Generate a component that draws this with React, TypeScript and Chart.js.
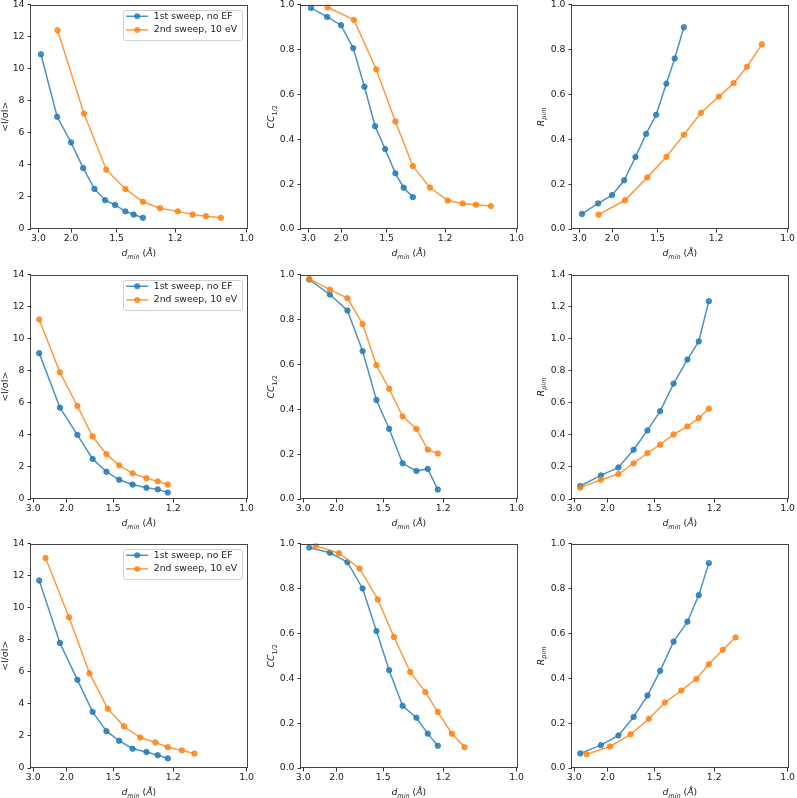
import { useEffect, useRef } from 'react';
import { Chart, registerables } from 'chart.js';

Chart.register(...registerables);

// ---- data ---------------------------------------------------------------
const seriesLabels = ['1st sweep, no EF', '2nd sweep, 10 eV'];
const xTickLabels = ['3.0', '2.0', '1.5', '1.2', '1.0'];

// Data set A: shell resolution limits (Å) for each sweep
const dminA1 = [2.87, 2.29, 2.0, 1.82, 1.69, 1.59, 1.51, 1.44, 1.39, 1.34];
const dminA2 = [2.28, 1.81, 1.58, 1.44, 1.34, 1.26, 1.19, 1.14, 1.1, 1.06];
const isigA1 = [10.9, 7.0, 5.4, 3.8, 2.5, 1.8, 1.5, 1.1, 0.9, 0.7];
const isigA2 = [12.4, 7.2, 3.7, 2.5, 1.7, 1.3, 1.1, 0.9, 0.8, 0.7];
const ccA1 = [0.985, 0.945, 0.908, 0.806, 0.634, 0.458, 0.356, 0.248, 0.184, 0.142];
const ccA2 = [0.988, 0.932, 0.711, 0.479, 0.28, 0.185, 0.127, 0.114, 0.108, 0.102];
const rpimA1 = [0.067, 0.114, 0.151, 0.217, 0.321, 0.424, 0.509, 0.648, 0.76, 0.899];
const rpimA2 = [0.064, 0.128, 0.23, 0.322, 0.42, 0.518, 0.59, 0.65, 0.723, 0.823];

// Data set B
const dminB1 = [2.71, 2.12, 1.84, 1.67, 1.55, 1.46, 1.38, 1.31, 1.26, 1.22];
const dminB2 = [2.71, 2.12, 1.84, 1.67, 1.55, 1.46, 1.38, 1.31, 1.26, 1.22];
const isigB1 = [9.1, 5.7, 4.0, 2.5, 1.7, 1.2, 0.9, 0.7, 0.6, 0.4];
const isigB2 = [11.2, 7.9, 5.8, 3.9, 2.8, 2.1, 1.6, 1.3, 1.1, 0.9];
const ccB1 = [0.978, 0.911, 0.84, 0.659, 0.441, 0.313, 0.159, 0.125, 0.134, 0.042];
const ccB2 = [0.981, 0.933, 0.895, 0.78, 0.596, 0.491, 0.368, 0.312, 0.22, 0.203];
const rpimB1 = [0.081, 0.147, 0.197, 0.307, 0.428, 0.548, 0.72, 0.87, 0.983, 1.234];
const rpimB2 = [0.071, 0.12, 0.156, 0.222, 0.287, 0.339, 0.403, 0.453, 0.505, 0.563];

// Data set C
const dminC1 = [2.71, 2.12, 1.84, 1.67, 1.55, 1.46, 1.38, 1.31, 1.26, 1.22];
const dminC2 = [2.48, 1.96, 1.7, 1.54, 1.43, 1.34, 1.27, 1.22, 1.17, 1.13];
const isigC1 = [11.7, 7.8, 5.5, 3.5, 2.3, 1.7, 1.2, 1.0, 0.8, 0.6];
const isigC2 = [13.1, 9.4, 5.9, 3.7, 2.6, 1.9, 1.6, 1.3, 1.1, 0.9];
const ccC1 = [0.982, 0.959, 0.917, 0.8, 0.61, 0.436, 0.277, 0.224, 0.153, 0.099];
const ccC2 = [0.99, 0.957, 0.889, 0.751, 0.584, 0.428, 0.338, 0.25, 0.153, 0.093];
const rpimC1 = [0.065, 0.102, 0.145, 0.227, 0.323, 0.433, 0.563, 0.652, 0.77, 0.913];
const rpimC2 = [0.061, 0.096, 0.15, 0.219, 0.292, 0.345, 0.397, 0.462, 0.527, 0.582];

// ---- styling / layout ---------------------------------------------------
const BLUE = 'rgba(31,119,180,0.8)';
const ORANGE = 'rgba(255,127,14,0.8)';
const TEXT = '#222';
const SPINE = '#444';
const FONT = 'DejaVu Sans';
const FS = 9.3;

const PLOT_W = 218;
const PLOT_H = 225;
const PLOT_LEFT = [31, 301, 572];
const PLOT_TOP = [4, 274, 543];
const AXIS_W = 45;
const PAD_T = 8;
const PAD_R = 6;
const AXIS_H = 36;
const CW = AXIS_W + PLOT_W + PAD_R;
const CH = PAD_T + PLOT_H + AXIS_H;
const X_MIN = [0.079, 0.102, 0.102];
const Y_TITLE_GAP = [26.5, 30, 31.5];

type Seg = { t: string; i?: boolean; sub?: boolean };

const yTitles: Seg[][] = [
  [{ t: '<I/σI>' }],
  [{ t: 'CC', i: true }, { t: '1/2', sub: true }],
  [{ t: 'R', i: true }, { t: 'pim', i: true, sub: true }],
];
const xTitle: Seg[] = [
  { t: 'd', i: true },
  { t: 'min', i: true, sub: true },
  { t: ' (' },
  { t: 'Å', i: true },
  { t: ')' },
];

type Panel = {
  row: number;
  col: number;
  d1: number[];
  y1: number[];
  d2: number[];
  y2: number[];
  yMax: number;
};

const panels: Panel[] = [
  { row: 0, col: 0, d1: dminA1, y1: isigA1, d2: dminA2, y2: isigA2, yMax: 14 },
  { row: 0, col: 1, d1: dminA1, y1: ccA1, d2: dminA2, y2: ccA2, yMax: 1 },
  { row: 0, col: 2, d1: dminA1, y1: rpimA1, d2: dminA2, y2: rpimA2, yMax: 1 },
  { row: 1, col: 0, d1: dminB1, y1: isigB1, d2: dminB2, y2: isigB2, yMax: 14 },
  { row: 1, col: 1, d1: dminB1, y1: ccB1, d2: dminB2, y2: ccB2, yMax: 1 },
  { row: 1, col: 2, d1: dminB1, y1: rpimB1, d2: dminB2, y2: rpimB2, yMax: 1.4 },
  { row: 2, col: 0, d1: dminC1, y1: isigC1, d2: dminC2, y2: isigC2, yMax: 14 },
  { row: 2, col: 1, d1: dminC1, y1: ccC1, d2: dminC2, y2: ccC2, yMax: 1 },
  { row: 2, col: 2, d1: dminC1, y1: rpimC1, d2: dminC2, y2: rpimC2, yMax: 1 },
];

const invSq = (d: number) => 1 / (d * d);

// Text with italic runs and subscripts, centred on (cx, cy)
function drawRich(ctx: CanvasRenderingContext2D, segs: Seg[], cx: number, cy: number, rotate: boolean) {
  const fontOf = (s: Seg) => `${s.i ? 'italic ' : ''}${s.sub ? FS * 0.7 : FS}px "${FONT}"`;
  ctx.save();
  ctx.translate(cx, cy);
  if (rotate) ctx.rotate(-Math.PI / 2);
  let w = 0;
  for (const s of segs) {
    ctx.font = fontOf(s);
    w += ctx.measureText(s.t).width;
  }
  let x = -w / 2;
  const base = FS * 0.36;
  ctx.textAlign = 'left';
  ctx.textBaseline = 'alphabetic';
  ctx.fillStyle = TEXT;
  for (const s of segs) {
    ctx.font = fontOf(s);
    ctx.fillText(s.t, x, base + (s.sub ? FS * 0.28 : 0));
    x += ctx.measureText(s.t).width;
  }
  ctx.restore();
}

function makeDecor(p: Panel) {
  return {
    id: 'decor' + p.row + p.col,
    afterDatasetsDraw(chart: Chart) {
      const ctx = chart.ctx;
      const a = chart.chartArea;
      // frame on all four sides
      ctx.save();
      ctx.strokeStyle = SPINE;
      ctx.lineWidth = 1;
      ctx.strokeRect(Math.round(a.left) - 0.5, Math.round(a.top) + 0.5, Math.round(a.right - a.left) + 1, Math.round(a.bottom - a.top) - 1);
      ctx.restore();

      // axis titles
      drawRich(ctx, yTitles[p.col], a.left - Y_TITLE_GAP[p.col], (a.top + a.bottom) / 2, true);
      drawRich(ctx, xTitle, (a.left + a.right) / 2, a.bottom + 24, false);

      // legend in the first column
      if (p.col === 0) {
        const colors = [BLUE, ORANGE];
        ctx.save();
        ctx.font = `${FS}px "${FONT}"`;
        const tw = Math.max(...seriesLabels.map((s) => ctx.measureText(s).width));
        const bw = 30.3 + tw + 5.6;
        const bh = 30;
        const bx = a.right - 4 - bw;
        const by = a.top + 5;
        ctx.beginPath();
        ctx.roundRect(Math.round(bx) + 0.5, Math.round(by) + 0.5, Math.round(bw), bh, 2.5);
        ctx.fillStyle = 'rgba(255,255,255,0.8)';
        ctx.fill();
        ctx.strokeStyle = '#d0d0d0';
        ctx.lineWidth = 1;
        ctx.stroke();
        seriesLabels.forEach((label, k) => {
          const cy = by + 6.7 + k * 13.6;
          ctx.strokeStyle = colors[k];
          ctx.lineWidth = 1.5;
          ctx.beginPath();
          ctx.moveTo(bx + 2.7, cy);
          ctx.lineTo(bx + 24.7, cy);
          ctx.stroke();
          ctx.fillStyle = colors[k];
          ctx.beginPath();
          ctx.arc(bx + 13.7, cy, 3, 0, Math.PI * 2);
          ctx.fill();
          ctx.fillStyle = TEXT;
          ctx.textAlign = 'left';
          ctx.textBaseline = 'middle';
          ctx.fillText(label, bx + 30.3, cy);
        });
        ctx.restore();
      }
    },
  };
}

function buildConfig(p: Panel): any {
  const series = (d: number[], y: number[], color: string, label: string, order: number) => ({
    label,
    data: d.map((v, i) => ({ x: invSq(v), y: y[i] })),
    borderColor: color,
    backgroundColor: color,
    pointBackgroundColor: color,
    pointBorderColor: color,
    borderWidth: 1.5,
    pointRadius: 2.7,
    pointBorderWidth: 1,
    tension: 0,
    order,
  });
  const tickFont = { family: FONT, size: FS };
  const grid = {
    display: true,
    drawOnChartArea: false,
    drawTicks: true,
    tickLength: 3.5,
    tickColor: '#333',
    tickWidth: 1,
  };
  return {
    type: 'line',
    data: {
      datasets: [
        series(p.d1, p.y1, BLUE, seriesLabels[0], 1),
        series(p.d2, p.y2, ORANGE, seriesLabels[1], 0),
      ],
    },
    options: {
      responsive: false,
      animation: false,
      events: [],
      layout: { padding: { top: PAD_T, right: PAD_R, left: 0, bottom: 0 } },
      plugins: { legend: { display: false }, tooltip: { enabled: false }, title: { display: false } },
      scales: {
        x: {
          type: 'linear',
          min: X_MIN[p.row],
          max: 1,
          afterFit: (s: any) => {
            s.height = AXIS_H;
          },
          afterBuildTicks: (s: any) => {
            s.ticks = xTickLabels.map((l) => ({ value: invSq(parseFloat(l)) }));
          },
          ticks: {
            callback: (_v: number, i: number) => xTickLabels[i],
            font: tickFont,
            color: TEXT,
            padding: 1,
            maxRotation: 0,
            autoSkip: false,
          },
          grid,
          border: { display: false },
        },
        y: {
          type: 'linear',
          min: 0,
          max: p.yMax,
          afterFit: (s: any) => {
            s.width = AXIS_W;
          },
          ticks: {
            stepSize: p.col === 0 ? 2 : 0.2,
            callback: (v: number) => (p.col === 0 ? String(Math.round(v)) : v.toFixed(1)),
            font: tickFont,
            color: TEXT,
            padding: 3,
            autoSkip: false,
          },
          grid,
          border: { display: false },
        },
      },
    },
    plugins: [makeDecor(p)],
  };
}

export default function App() {
  const refs = useRef<(HTMLCanvasElement | null)[]>([]);

  useEffect(() => {
    const charts = panels.map((p, i) => new Chart(refs.current[i] as HTMLCanvasElement, buildConfig(p)));
    return () => charts.forEach((c) => c.destroy());
  }, []);

  return (
    <div
      style={{
        position: 'absolute',
        left: 0,
        top: 0,
        width: 797,
        height: 798,
        overflow: 'hidden',
        background: '#fff',
      }}
    >
      {panels.map((p, i) => (
        <canvas
          key={i}
          ref={(el) => {
            refs.current[i] = el;
          }}
          width={CW}
          height={CH}
          style={{
            position: 'absolute',
            left: PLOT_LEFT[p.col] - AXIS_W,
            top: PLOT_TOP[p.row] - PAD_T,
            width: CW,
            height: CH,
          }}
        />
      ))}
    </div>
  );
}
